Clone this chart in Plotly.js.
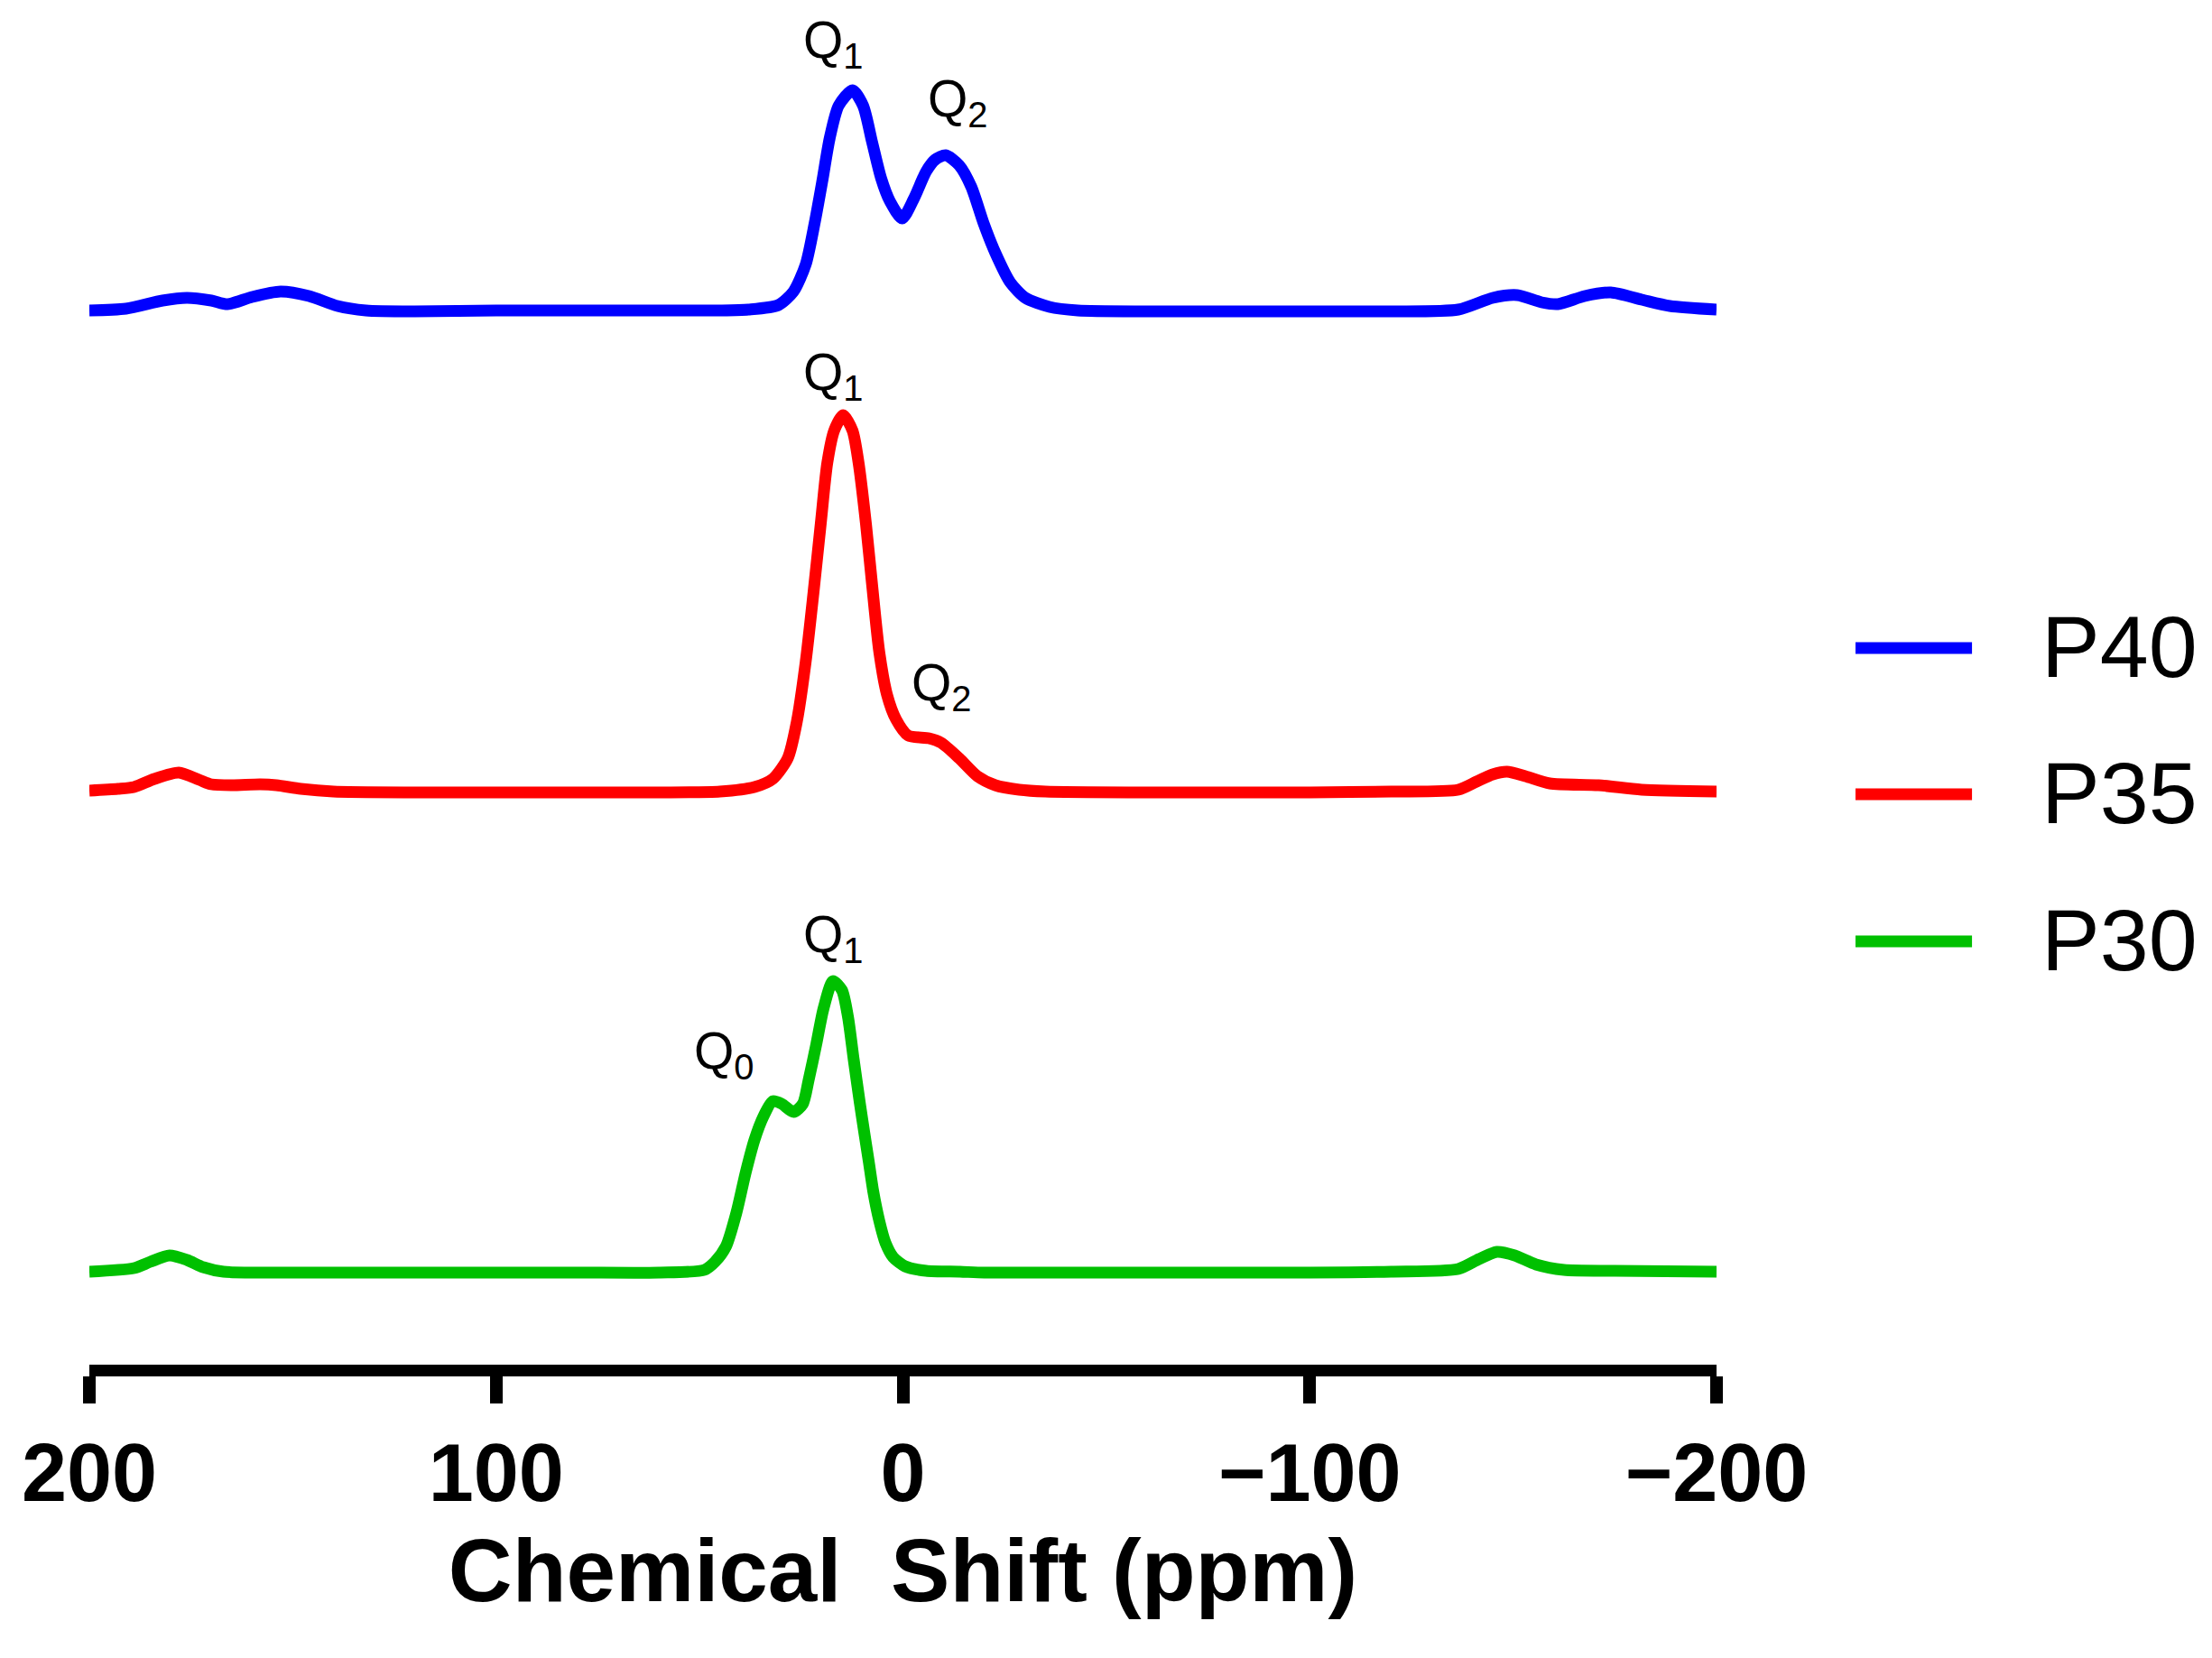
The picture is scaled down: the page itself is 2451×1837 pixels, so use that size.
<!DOCTYPE html>
<html>
<head>
<meta charset="utf-8">
<script src="https://cdn.plot.ly/plotly-3.0.1.min.js"></script>
<style>html,body{margin:0;padding:0;background:#fff;}#chart{width:2451px;height:1837px;}</style>
</head>
<body>
<div id="chart"></div>
<script>
// ---- data (chemical shift in ppm, intensity in a.u. above each baseline) ----
const seriesNames = ["P40", "P35", "P30"];
const seriesColors = ["#0000FF", "#FF0000", "#00C000"];

const p40Shift = [200, 191, 182, 176, 170, 166, 160, 153, 146, 139, 132, 120, 100, 80, 60, 45, 38, 30.6, 26.9, 23.9, 21.7, 19.8, 18.0, 15.8, 12.4, 9.8, 7.6, 5.4, 3.2, 0.2, -2.7, -5.7, -7.9, -10.5, -13.8, -16.8, -19.8, -22.7, -26.4, -30.1, -36.0, -43, -60, -80, -100, -120, -136.5, -145, -151, -157, -161, -167.6, -174, -181.6, -188.5, -200];
const p40Intensity = [1, 3, 12, 15, 12, 8, 16, 22, 17, 6, 1, 0, 1, 1, 1, 1, 2, 7, 22, 52, 98, 145, 192, 228, 245, 228, 188, 148, 122, 103, 125, 155, 168, 173, 162, 138, 98, 65, 32, 15, 5, 1, 0, 0, 0, 0, 2, 15, 18, 10, 8, 17, 21, 13, 6, 2];

const p35Shift = [200, 193, 189, 184, 178, 173, 170, 165, 158, 154, 148, 140, 120, 100, 80, 60, 45, 36.5, 32.0, 28.3, 26.1, 23.9, 22.0, 20.2, 18.6, 16.9, 14.7, 12.4, 10.9, 9.1, 7.6, 5.8, 3.9, 1.7, -1.3, -6.4, -9.4, -13.8, -18.3, -22.7, -28.6, -35, -60, -80, -100, -120, -136.5, -141, -145, -148.5, -153, -159, -171, -181.6, -200];
const p35Intensity = [2, 4, 6, 15, 22, 14, 9, 8, 9, 8, 4, 1, 0, 0, 0, 0, 1, 6, 15, 38, 78, 145, 221, 298, 365, 401, 418, 401, 365, 298, 231, 155, 108, 81, 63, 60, 55, 38, 18, 8, 3, 1, 0, 0, 0, 1, 3, 12, 20, 23, 18, 10, 8, 3, 1];

const p30Shift = [200, 189, 185, 180.3, 176, 172, 167, 150, 120, 100, 80, 60, 48.8, 46.2, 43.5, 40.9, 38.7, 36.5, 34.3, 32.0, 29.8, 26.9, 24.6, 23.2, 21.3, 19.5, 17.2, 15.0, 13.5, 12.1, 10.6, 9.5, 8.4, 7.3, 5.8, 4.3, 2.4, -0.5, -5.7, -14, -20, -40, -60, -80, -100, -120, -136.5, -141.6, -146, -150.4, -155.6, -162.5, -175, -200];
const p30Intensity = [1, 5, 12, 19, 14, 6, 1, 0, 0, 0, 0, 0, 3, 12, 29, 67, 110, 147, 173, 190, 187, 178, 187, 213, 253, 293, 323, 313, 283, 236, 188, 155, 123, 90, 57, 33, 17, 7, 2, 1, 0, 0, 0, 0, 0, 1, 4, 15, 23, 19, 9, 3, 2, 1];

const tickValues = [200, 100, 0, -100, -200];
const xTitle = "Chemical\u00A0 Shift (ppm)";

// peak labels: series index, text, shift of label's left edge, height of label middle above that baseline
const peakLabelSeries = [0, 0, 1, 1, 2, 2];
const peakLabelText = ["Q<sub>1</sub>", "Q<sub>2</sub>", "Q<sub>1</sub>", "Q<sub>2</sub>", "Q<sub>1</sub>", "Q<sub>0</sub>"];
const peakLabelShift = [25.0, -5.6, 25.0, -1.6, 25.0, 51.8];
const peakLabelHeight = [297, 232, 462, 118, 371, 242];

// ---- stacking of the spectra (display offsets) ----
const stackOffset = [1065, 532, 0];

const shifts = [p40Shift, p35Shift, p30Shift];
const intens = [p40Intensity, p35Intensity, p30Intensity];

const traces = seriesNames.map((name, i) => ({
  type: "scatter",
  mode: "lines",
  name: name,
  x: shifts[i],
  y: intens[i].map(v => v + stackOffset[i]),
  line: {color: seriesColors[i], width: 13, shape: "spline", smoothing: 0.7},
  showlegend: false,
  hoverinfo: "x+name"
}));

const font = "Arial, 'Liberation Sans', Helvetica, sans-serif";

const annotations = peakLabelText.map((t, k) => ({
  text: t,
  x: peakLabelShift[k],
  y: peakLabelHeight[k] + stackOffset[peakLabelSeries[k]],
  xref: "x", yref: "y",
  xanchor: "left", yanchor: "middle",
  showarrow: false,
  font: {family: font, size: 57, color: "#000"}
}));

// legend (drawn beside the plot: coloured key line + series name)
const legendLineX = [1.0854, 1.1570];
const legendRowY = [0.5251, 0.4180, 0.3102];
const legendTextX = 1.1985;
const shapes = seriesNames.map((name, i) => ({
  type: "line", xref: "paper", yref: "paper",
  x0: legendLineX[0], x1: legendLineX[1],
  y0: legendRowY[i], y1: legendRowY[i],
  line: {color: seriesColors[i], width: 13}
}));
seriesNames.forEach((name, i) => {
  annotations.push({
    text: name,
    xref: "paper", yref: "paper",
    x: legendTextX, y: legendRowY[i] + 0.0012,
    xanchor: "left", yanchor: "middle",
    showarrow: false,
    font: {family: font, size: 97, color: "#000"}
  });
});

const layout = {
  width: 2451,
  height: 1837,
  margin: {l: 99, r: 549, t: 0, b: 325, pad: 0},
  paper_bgcolor: "#fff",
  plot_bgcolor: "#fff",
  showlegend: false,
  xaxis: {
    range: [200, -200],
    tickvals: tickValues,
    ticktext: tickValues.map(v => v < 0 ? "\u2212" + Math.abs(v) : String(v)),
    showline: true,
    linecolor: "#000",
    linewidth: 13,
    ticks: "outside",
    ticklen: 30,
    tickwidth: 14,
    tickcolor: "#000",
    showgrid: false,
    zeroline: false,
    tickfont: {family: font, size: 90, color: "#000", weight: "bold"},
    title: {
      text: xTitle,
      font: {family: font, size: 98, color: "#000", weight: "bold"},
      standoff: 30
    }
  },
  yaxis: {
    visible: false,
    range: [-102, 1410],
    showgrid: false,
    zeroline: false
  },
  shapes: shapes,
  annotations: annotations
};

Plotly.newPlot("chart", traces, layout, {staticPlot: true, displayModeBar: false});
</script>
</body>
</html>
